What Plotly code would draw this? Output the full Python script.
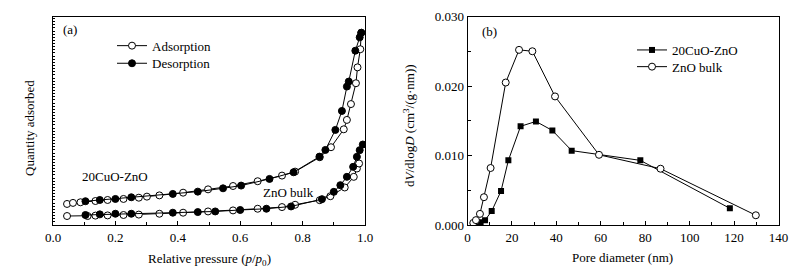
import plotly.graph_objects as go

# ---------------- Panel (a): N2 isotherms (arbitrary units) ----------------
cu_ads_x = [0.045, 0.064, 0.088, 0.136, 0.175, 0.226, 0.275, 0.301, 0.341, 0.417, 0.497, 0.577,
            0.656, 0.734, 0.776, 0.855, 0.891, 0.932, 0.942, 0.955, 0.971, 0.976, 0.985, 0.988]
cu_ads_y = [10.1, 10.6, 10.9, 11.5, 12.0, 12.5, 13.1, 13.6, 14.2, 15.5, 17.1, 18.7,
            21.0, 23.7, 25.6, 32.5, 37.3, 45.9, 50.4, 58.0, 68.0, 75.6, 84.3, 92.2]
cu_des_x = [0.104, 0.150, 0.200, 0.251, 0.384, 0.464, 0.545, 0.603, 0.694, 0.771, 0.854, 0.873,
            0.905, 0.926, 0.942, 0.948, 0.969, 0.983, 0.988]
cu_des_y = [11.4, 12.0, 12.5, 13.3, 14.9, 16.0, 17.6, 18.9, 22.1, 25.3, 32.8, 36.0,
            45.6, 54.7, 66.4, 68.8, 83.6, 90.0, 92.2]

zn_ads_x = [0.045, 0.111, 0.136, 0.175, 0.226, 0.275, 0.341, 0.417, 0.497, 0.577, 0.656, 0.734,
            0.776, 0.855, 0.889, 0.935, 0.964, 0.974, 0.981]
zn_ads_y = [4.3, 4.3, 4.5, 4.6, 4.8, 5.0, 5.4, 5.9, 6.5, 7.0, 7.8, 8.6,
            9.7, 11.9, 13.8, 18.0, 23.1, 27.1, 29.5]
zn_des_x = [0.104, 0.150, 0.200, 0.251, 0.384, 0.464, 0.520, 0.600, 0.684, 0.763, 0.862, 0.900,
            0.921, 0.942, 0.962, 0.974, 0.983, 0.993]
zn_des_y = [4.8, 5.1, 5.4, 5.4, 5.9, 6.2, 6.5, 7.2, 7.8, 8.9, 12.4, 15.9,
            19.1, 23.1, 27.9, 32.7, 35.9, 38.6]

# ---------------- Panel (b): pore size distribution ----------------
psd_cu_x = [2.6, 4.4, 5.9, 7.9, 10.9, 15.1, 18.4, 23.9, 30.8, 38.2, 46.9, 77.8, 118.1]
psd_cu_y = [0.0001, 0.0002, 0.0004, 0.0007, 0.0020, 0.0049, 0.0093, 0.0142, 0.0149, 0.0136,
            0.0107, 0.0093, 0.0024]
psd_zn_x = [2.6, 3.8, 5.6, 7.4, 10.4, 17.2, 23.2, 29.2, 39.4, 59.2, 86.9, 129.8]
psd_zn_y = [0.0003, 0.0007, 0.0016, 0.0040, 0.0082, 0.0205, 0.0252, 0.0250, 0.0185, 0.0101,
            0.0081, 0.0014]

x_ticks_a = [0.0, 0.2, 0.4, 0.6, 0.8, 1.0]
x_ticks_b = [0, 20, 40, 60, 80, 100, 120, 140]
y_ticks_b = [0.000, 0.010, 0.020, 0.030]

FONT = "Liberation Serif"
W, H = 797, 271

def px2x(p):
    return p / W

def px2y(p):
    return 1 - p / H

fig = go.Figure()

open_m = dict(symbol="circle", size=7, color="white", line=dict(width=1, color="black"))
fill_m = dict(symbol="circle", size=7, color="black", line=dict(width=1, color="black"))
blk = dict(color="black", width=1)

fig.add_trace(go.Scatter(x=cu_ads_x, y=cu_ads_y, mode="lines+markers", name="Adsorption",
                         line=blk, marker=open_m, xaxis="x", yaxis="y", legend="legend", showlegend=True))
fig.add_trace(go.Scatter(x=cu_des_x, y=cu_des_y, mode="lines+markers", name="Desorption",
                         line=blk, marker=fill_m, xaxis="x", yaxis="y", legend="legend3", showlegend=True))
fig.add_trace(go.Scatter(x=zn_ads_x, y=zn_ads_y, mode="lines+markers", name="Adsorption",
                         line=blk, marker=open_m, xaxis="x", yaxis="y", showlegend=False))
fig.add_trace(go.Scatter(x=zn_des_x, y=zn_des_y, mode="lines+markers", name="Desorption",
                         line=blk, marker=fill_m, xaxis="x", yaxis="y", showlegend=False))

fig.add_trace(go.Scatter(x=psd_cu_x, y=psd_cu_y, mode="lines+markers", name="20CuO-ZnO",
                         line=blk, marker=dict(symbol="square", size=6, color="black"),
                         xaxis="x2", yaxis="y2", legend="legend2", showlegend=True))
fig.add_trace(go.Scatter(x=psd_zn_x, y=psd_zn_y, mode="lines+markers", name="ZnO bulk",
                         line=blk, marker=open_m,
                         xaxis="x2", yaxis="y2", legend="legend4", showlegend=True))

ydom = [px2y(225), px2y(16.5)]
tickfont = dict(family=FONT, size=13, color="black")
axis_common = dict(showgrid=False, zeroline=False, showline=True, linecolor="black", linewidth=1,
                   mirror=True, ticks="inside", tickcolor="black", ticklen=4, tickwidth=1,
                   tickfont=tickfont, automargin=False)

def leg(xp, yp):
    return dict(x=px2x(xp), y=px2y(yp), xanchor="left", yanchor="top",
                bgcolor="rgba(0,0,0,0)", borderwidth=0,
                font=dict(family=FONT, size=13, color="black"), itemwidth=30)

fig.update_layout(
    template="none",
    width=W, height=H,
    margin=dict(l=0, r=0, t=0, b=0, pad=0, autoexpand=False),
    paper_bgcolor="white", plot_bgcolor="white",
    font=dict(family=FONT, size=13, color="black"),
    xaxis=dict(domain=[px2x(53), px2x(365)], range=[0, 1.0], tickvals=x_ticks_a,
               tickformat=".1f", minor=dict(dtick=0.1, ticks="inside", ticklen=3, tickcolor="black"),
               anchor="y", **axis_common),
    yaxis=dict(domain=ydom, range=[0, 100], showticklabels=False, tickvals=[],
               minor=dict(dtick=1.5, ticks="inside", ticklen=2, tickcolor="black"),
               anchor="x", **axis_common),
    xaxis2=dict(domain=[px2x(467.5), px2x(778.5)], range=[0, 140], tickvals=x_ticks_b,
                minor=dict(dtick=10, ticks="inside", ticklen=3, tickcolor="black"),
                anchor="y2", **axis_common),
    yaxis2=dict(domain=ydom, range=[0, 0.030], tickvals=y_ticks_b, tickformat=".3f",
                minor=dict(dtick=0.005, ticks="inside", ticklen=3, tickcolor="black"),
                anchor="x2", **axis_common),
    legend=leg(112, 30.7),
    legend3=leg(112, 48.3),
    legend2=leg(632, 35),
    legend4=leg(632, 51.7),
)

ann = [
    dict(text="(a)", x=px2x(70), y=px2y(29)),
    dict(text="(b)", x=px2x(489), y=px2y(31)),
    dict(text="20CuO-ZnO", x=px2x(115), y=px2y(176)),
    dict(text="ZnO bulk", x=px2x(288), y=px2y(192)),
    dict(text="Relative pressure (<i>p</i>/<i>p</i><sub>0</sub>)", x=px2x(209), y=px2y(259)),
    dict(text="Pore diameter (nm)", x=px2x(622), y=px2y(257)),
    dict(text="Quantity adsorbed", x=px2x(29), y=px2y(128), textangle=-90),
    dict(text="d<i>V</i>/dlog<i>D</i> (cm<sup>3</sup>/(g·nm))", x=px2x(409), y=px2y(126), textangle=-90),
]
for a in ann:
    fig.add_annotation(xref="paper", yref="paper", showarrow=False, xanchor="center", yanchor="middle",
                       font=dict(family=FONT, size=13, color="black"), **a)

fig.write_html("out.html", config={"displayModeBar": False},
               post_script="document.body.style.margin='0px';document.body.style.overflow='hidden';")
